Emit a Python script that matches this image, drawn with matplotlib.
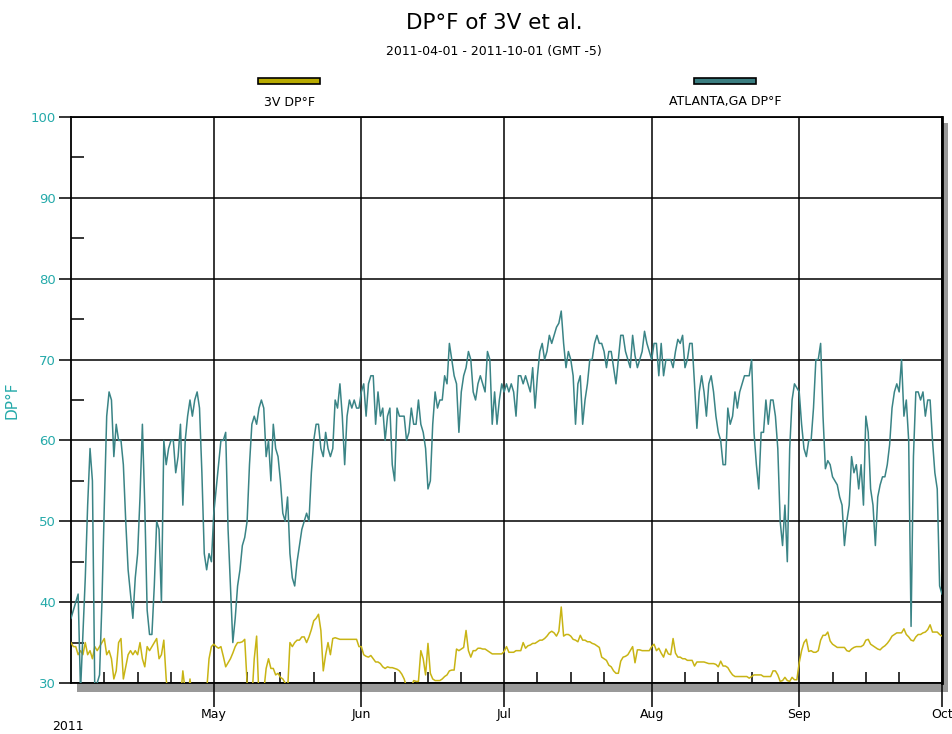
import matplotlib
matplotlib.use("Agg")
import matplotlib.pyplot as plt
import matplotlib.dates as mdates
from matplotlib.patches import Rectangle
from matplotlib.ticker import MultipleLocator
import pandas as pd

# dew point readings, one every 12 hours from 2011-04-01 00:00 to 2011-10-01 00:00
atl_dp = [
    38, 39, 40, 41, 29, 36, 43, 52, 59, 55, 29, 30, 31, 40, 52, 63, 66, 65, 58, 62,
    60, 60, 57, 50, 44, 41, 38, 43, 46, 53, 62, 52, 39, 36, 36, 42, 50, 49, 40, 60,
    57, 59, 60, 60, 56, 58, 62, 52, 60, 63, 65, 63, 65, 66, 64, 56, 46, 44, 46, 45,
    # May
    51, 54, 57, 60, 60, 61, 49, 42, 35, 38, 42, 44, 47, 48, 50, 57, 62, 63, 62, 64,
    65, 64, 58, 60, 55, 62, 59, 58, 55, 51, 50, 53, 46, 43, 42, 45, 47, 49, 50, 51,
    50, 56, 60, 62, 62, 59, 58, 61, 59, 58, 59, 65, 64, 67, 63, 57, 63, 65, 64, 65,
    64, 64,
    # Jun
    66, 67, 63, 67, 68, 68, 62, 66, 63, 64, 60, 63, 64, 57, 55, 64, 63, 63, 63, 60,
    61, 64, 62, 62, 65, 62, 61, 59, 54, 55, 62, 66, 64, 65, 65, 68, 67, 72, 70, 68,
    67, 61, 66, 68, 69, 71, 70, 66, 65, 67, 68, 67, 66, 71, 70, 62, 66, 62, 65, 67,
    # Jul
    66, 67, 66, 67, 66, 63, 68, 68, 67, 68, 67, 66, 69, 64, 68, 71, 72, 70, 71, 73,
    72, 73, 74, 74.5, 76, 72, 69, 71, 70, 68, 62, 67, 68, 62, 65, 67, 70, 70, 72, 73,
    72, 72, 71, 69, 71, 71, 69, 67, 70, 73, 73, 71, 70, 69, 73, 70.5, 69, 70, 71, 73.5,
    72, 71,
    # Aug
    70, 72, 72, 68, 72, 68, 70, 70, 70, 69, 71, 72.5, 72, 73, 69, 70, 72, 72, 67, 61.5,
    66, 68, 66, 63, 67, 68, 66, 63, 61, 60, 57, 57, 64, 62, 63, 66, 64, 66, 67, 68,
    68, 68, 70, 61, 57, 54, 61, 61, 65, 62, 65, 65, 63, 59, 50, 47, 52, 45, 59, 65,
    67, 66.5,
    # Sep
    66, 62, 59, 58, 60, 60, 64, 70, 70, 72, 63, 56.5, 57.5, 57, 55.5, 55, 54.5, 53, 52, 47,
    50, 52, 58, 56, 57, 54, 57, 52, 63, 61, 54, 52, 47, 53, 54.5, 55.5, 55.5, 57, 59.5, 64,
    66, 67, 66, 70, 63, 65, 60, 37, 58, 66, 66, 65, 66, 63, 65, 65, 60, 56, 54, 42,
    41,
]

v3_dp = [
    35, 34.5, 34.5, 33.5, 34, 33.5, 35, 33.5, 34, 33, 34.5, 34, 34.5, 35, 35.5, 33.5, 34, 33, 30.5, 31.5,
    35, 35.5, 30.5, 32, 33.5, 34, 33.5, 34, 33.5, 35, 33, 32, 34.5, 34, 34.5, 35, 35.5, 33, 33.5, 35.3,
    30.5, 28, 28, 28, 29.5, 28, 28, 31.5, 29, 28, 30.5, 28, 28, 28, 28, 28, 28, 29, 33, 34.5,
    # May
    34.8, 34.5, 34.3, 34.5, 33.3, 32, 32.5, 33, 33.7, 34.5, 35, 35, 35.1, 35.4, 30, 28, 28, 33, 35.8, 28,
    28, 29, 31.8, 33, 31.8, 31.8, 31, 31.2, 30.7, 30.5, 30, 29, 35, 34.5, 35, 35.3, 35.3, 35.7, 35.7, 35,
    35.7, 36.6, 37.7, 38, 38.5, 36.5, 31.5, 33.5, 35, 33.5, 35.5, 35.6, 35.5, 35.4, 35.4, 35.4, 35.4, 35.4, 35.4, 35.4,
    35.4, 34.5,
    # Jun
    34.5, 33.5, 33.3, 33.2, 33.4, 33, 32.6, 32.6, 32.4, 32, 31.8, 32, 31.9, 31.9, 31.8, 31.7, 31.5, 31.1, 30.5, 29.5,
    29, 29.5, 30.3, 30.2, 30.2, 34, 33, 31, 34.9, 31.2, 30.5, 30.3, 30.3, 30.3, 30.5, 30.8, 31, 31.5, 31.6, 31.6,
    34.2, 34, 34.2, 34.4, 36.5, 34, 33.2, 34, 34, 34.3, 34.3, 34.2, 34.2, 34, 33.8, 33.6, 33.6, 33.6, 33.6, 33.6,
    # Jul
    33.9, 34.5, 33.8, 33.8, 33.8, 34, 34, 34, 35, 34.3, 34.6, 34.7, 34.9, 34.9, 35.1, 35.3, 35.3, 35.5, 35.8, 36.2,
    36.4, 36.2, 35.8, 36.4, 39.4, 35.8, 36, 36, 35.8, 35.4, 35.3, 35.1, 35.9, 35.3, 35.3, 35.1, 35.1, 34.9, 34.8, 34.6,
    34.4, 33.2, 33, 32.8, 32.2, 32, 31.5, 31.2, 31.2, 32.7, 33.2, 33.3, 33.5, 34, 34.5, 32.5, 34.1, 34.1, 34, 34,
    34, 34,
    # Aug
    34.5, 34.8, 34, 34.3, 33.7, 33.2, 34.2, 33.6, 33.5, 35.5, 33.7, 33.2, 33.2, 33, 33, 32.8, 32.8, 32.8, 32.1, 32.6,
    32.6, 32.6, 32.6, 32.5, 32.4, 32.4, 32.4, 32.3, 32, 32.7, 32.1, 32.1, 31.9, 31.4, 31, 30.8, 30.8, 30.8, 30.8, 30.8,
    30.8, 30.6, 30.8, 31, 31, 31, 31, 30.8, 30.8, 30.8, 30.8, 31.5, 31.5, 31, 30.2, 30.3, 30.7, 30.3, 30.2, 30.7,
    30.4, 30.4,
    # Sep
    32.5, 34, 35, 35.4, 33.9, 34, 33.8, 33.8, 34, 35.3, 35.9, 35.9, 36.3, 35.2, 34.8, 34.6, 34.4, 34.4, 34.4, 34.4,
    34, 33.9, 34.2, 34.4, 34.5, 34.5, 34.5, 34.7, 35.3, 35.4, 34.8, 34.6, 34.4, 34.2, 34.1, 34.4, 34.6, 34.9, 35.3, 35.8,
    36, 36.2, 36.2, 36.2, 36.7, 36, 35.7, 35.3, 35.2, 35.7, 36, 36, 36.2, 36.3, 36.6, 37.2, 36.3, 36.3, 36.3, 36,
    35.8,
]

month_labels = ["May", "Jun", "Jul", "Aug", "Sep", "Oct"]
y_ticks = [30, 40, 50, 60, 70, 80, 90, 100]

times = pd.date_range("2011-04-01", periods=len(atl_dp), freq="12h")

yellow = "#c8b414"
teal = "#3a8486"
label_teal = "#25aaaa"

W, H = 952, 734
fig = plt.figure(figsize=(W / 100, H / 100), dpi=100)

# drop shadow behind the plot area
fig.patches.append(Rectangle((77 / W, 42 / H), 871 / W, 569 / H,
                             transform=fig.transFigure, facecolor="#999999",
                             edgecolor="none", zorder=0))

ax = fig.add_axes([71 / W, 51 / H, 871 / W, 566 / H], zorder=1)
ax.set_facecolor("white")

ax.plot(times, v3_dp, color=yellow, linewidth=1.1, zorder=3)
ax.plot(times, atl_dp, color=teal, linewidth=1.1, zorder=4)

ax.set_xlim(pd.Timestamp("2011-04-01"), pd.Timestamp("2011-10-01"))
ax.set_ylim(30, 100)

ax.xaxis.set_major_locator(mdates.MonthLocator(bymonth=[5, 6, 7, 8, 9, 10]))
ax.set_xticks(ax.get_xticks(), month_labels)
ax.xaxis.set_minor_locator(mdates.DayLocator(bymonthday=[8, 15, 22]))
ax.set_yticks(y_ticks)
ax.yaxis.set_minor_locator(MultipleLocator(5))

ax.grid(which="major", color="black", linewidth=1.1)
ax.set_axisbelow(True)

ax.tick_params(axis="x", which="major", direction="out", length=17, width=1.1,
               pad=1, labelsize=9, colors="black")
ax.tick_params(axis="x", which="minor", direction="in", length=8, width=1.1)
ax.tick_params(axis="y", which="major", direction="out", length=9, width=1.1,
               pad=2, labelsize=9.5, labelcolor=label_teal)
ax.tick_params(axis="y", which="minor", direction="in", length=9, width=1.1)

for s in ax.spines.values():
    s.set_linewidth(1.3)
ax.spines["right"].set_linewidth(2)

ax.set_ylabel("DP°F", color=label_teal, fontsize=11)
ax.yaxis.set_label_coords(-52 / 871, 0.5)

fig.text(52 / W, 1 - 727 / H, "2011", fontsize=9, va="center", ha="left")

fig.text(494 / W, 1 - 23 / H, "DP°F of 3V et al.", fontsize=15.5,
         ha="center", va="center")
fig.text(494 / W, 1 - 52 / H, "2011-04-01 - 2011-10-01 (GMT -5)", fontsize=9,
         ha="center", va="center")

# legend swatches
for x0, col, name in [(258, "#b8aa00", "3V DP°F"), (694, "#3a7d80", "ATLANTA,GA DP°F")]:
    fig.patches.append(Rectangle((x0 / W, 1 - 84 / H), 62 / W, 6 / H,
                                 transform=fig.transFigure, facecolor=col,
                                 edgecolor="black", linewidth=1.2, zorder=2))
    fig.text((x0 + 31) / W, 1 - 102 / H, name, fontsize=9, ha="center", va="center")

fig.savefig("out.png", dpi=100)
